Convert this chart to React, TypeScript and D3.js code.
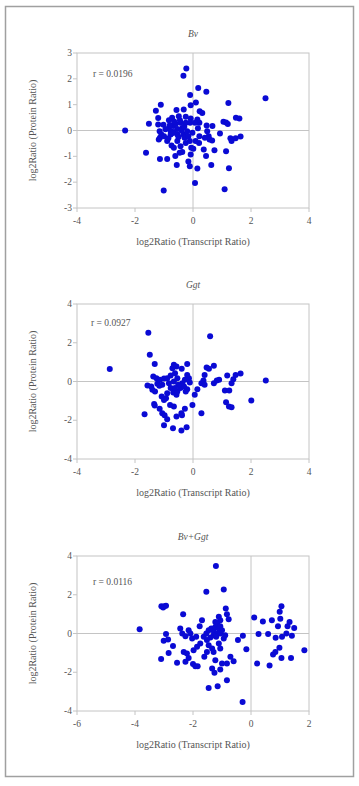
import React from "react";
import * as d3 from "d3";

// Bv panel data: [log2 transcript ratio, log2 protein ratio]
const bvPoints: [number, number][] = [
  [-2.34, 0], [-0.23, 2.4], [-0.33, 2.12], [0.18, 1.65], [0.46, 1.5], [2.5, 1.25],
  [1.22, 1.06], [-0.1, 1.37], [0.1, 1.08], [-1.11, 1.0], [-1.28, 0.76], [-0.57, 0.79],
  [-0.32, 0.81], [-0.08, 0.98], [0.23, 0.75], [0.32, 0.68], [-1.2, 0.48], [-1.52, 0.26],
  [-1.2, 0.23], [-1.02, 0.22], [1.48, 0.49], [1.6, 0.46], [1.05, 0.34], [1.14, 0.31],
  [1.2, 0.25], [0.47, 0.19], [0.67, 0.17], [0.93, -0.12], [1.29, -0.3], [1.33, -0.41],
  [1.47, -0.3], [1.64, -0.23], [0.49, -0.03], [0.54, -0.22], [0.57, -0.35], [0.41, -0.28],
  [0.37, -0.74], [0.45, -0.99], [0.66, -0.39], [0.74, -0.76], [0.63, -1.34], [1.14, -0.8],
  [1.24, -1.46], [1.09, -2.27], [0.07, -2.03], [0.15, -1.47], [-0.16, -1.2], [-0.11, -1.38],
  [-0.56, -1.34], [-0.89, -1.1], [-1.14, -1.1], [-1.62, -0.86], [-0.61, -0.99], [-1.01, -2.32],
  [-0.08, -0.93], [-0.37, -0.83], [-0.06, -0.67], [0.01, -0.71], [0.21, -0.48], [0.22, -0.22],
  [0.17, 0.09], [0.22, 0.3], [0.15, 0.43], [-0.08, 0.46], [-0.25, 0.53], [-0.49, 0.55],
  [-0.72, 0.49], [-0.83, 0.4], [-0.43, 0.3], [-0.25, 0.3], [-0.1, 0.3], [-0.83, 0.1],
  [-0.68, 0.17], [-0.54, 0.06], [-0.37, 0.1], [-0.66, -0.06], [-0.77, -0.15], [-0.54, -0.15],
  [-0.33, -0.15], [-0.2, -0.03], [-0.02, -0.09], [-1.15, -0.03], [-1.09, -0.15], [-1.14, -0.28],
  [-1.18, -0.35], [-1.0, -0.22], [-0.89, -0.41], [-0.74, -0.58], [-0.54, -0.41], [-0.43, -0.61],
  [-0.25, -0.48], [-0.11, -0.41], [0.09, -0.41], [-0.66, -0.67], [-0.46, -0.86], [-0.77, -0.03],
  [-0.29, -0.28], [-0.16, -0.22], [0.07, 0.3],
  [-0.8, 0.2], [-0.7, -0.1], [-0.6, 0.25], [-0.5, -0.25], [-0.4, 0.0], [-0.85, -0.3],
  [-0.65, 0.35], [-0.45, 0.4], [-0.3, 0.15], [-0.95, 0.05],
];

// Ggt panel data
const ggtPoints: [number, number][] = [
  [-2.87, 0.64], [-1.54, 2.52], [0.59, 2.34], [-1.49, 1.38], [-1.32, 0.9], [-1.37, 0.26],
  [-1.26, 0.17], [-1.57, -0.21], [-1.44, -0.26], [-1.4, -0.43], [-1.31, -0.52], [-1.23, -0.12],
  [-1.14, 0.09], [-1.0, 0.16], [-1.06, -0.17], [-1.16, -0.22], [-1.34, -1.16], [-1.32, -1.24],
  [-1.67, -1.69], [-1.15, -1.41], [-1.06, -1.64], [-0.98, -1.74], [-0.89, -1.95], [-1.0, -2.26],
  [-0.69, -2.41], [-0.4, -2.53], [-0.22, -2.36], [-0.38, -1.74], [-0.57, -1.81], [-0.4, -1.64],
  [-0.28, -1.41], [-0.02, -1.21], [-0.66, -1.29], [-0.79, -1.21], [-0.93, -0.86], [-1.08, -0.78],
  [-1.0, -0.95], [-0.89, -0.6], [-0.77, -0.34], [-0.68, -0.57], [-0.57, -0.69], [-0.54, -0.52],
  [-0.43, -0.34], [-0.31, -0.26], [-0.2, -0.4], [-0.37, -0.09], [-0.28, 0.09], [-0.14, 0.17],
  [-0.2, 0.34], [-0.62, 0.43], [-0.77, 0.31], [-0.71, 0.69], [-0.66, 0.86], [-0.57, 0.78],
  [-0.39, 0.66], [-0.2, 0.9], [-0.54, 0.17], [-0.66, 0.0], [-0.83, -0.09], [-0.89, 0.17],
  [-0.51, -0.17], [-0.62, -0.34], [-0.11, -0.05], [-0.25, -0.52], [0.06, -0.69], [0.15, -0.4],
  [0.29, -0.09], [0.36, 0.05], [0.4, 0.34], [0.47, 0.72], [0.55, 0.66], [0.72, 0.81],
  [0.4, -0.17], [0.29, -1.64], [0.72, -0.09], [0.82, 0.05], [0.9, 0.09], [1.18, 0.31],
  [1.1, -0.47], [1.25, -0.47], [1.14, -1.07], [1.24, -1.29], [1.33, -1.33], [1.33, -0.09],
  [1.39, 0.12], [1.47, 0.34], [1.64, 0.41], [2.01, -0.98], [2.51, 0.05],
];

// Bv+Ggt panel data
const bothPoints: [number, number][] = [
  [-3.84, 0.22], [-3.09, 1.41], [-3.03, 1.34], [-2.99, 1.41], [-2.93, 1.43], [-3.1, -1.31],
  [-2.93, -0.03], [-3.01, -0.38], [-2.86, -0.31], [-2.84, -1.0], [-2.69, -0.65], [-2.55, -1.51],
  [-2.37, 0.0], [-2.44, 0.26], [-2.26, -0.14], [-2.34, 1.0], [-2.15, 0.17], [-2.09, 0.0],
  [-2.03, -0.26], [-2.32, -0.95], [-2.21, -1.03], [-2.15, -1.26], [-2.26, -1.46], [-2.0, -1.58],
  [-1.92, -1.69], [-1.84, -1.69], [-1.98, -0.86], [-1.86, -0.69], [-1.75, -0.52], [-1.89, -0.17],
  [-1.69, 0.69], [-1.77, 0.38], [-1.63, -0.17], [-1.54, 0.0], [-1.54, 2.15], [-1.21, 3.48],
  [-0.94, 2.27], [-0.87, 1.29], [-0.83, 1.0], [-0.77, 0.74], [-1.23, 0.6], [-1.11, 0.86],
  [-1.06, 0.69], [-1.46, 0.17], [-1.37, 0.26], [-1.29, 0.14], [-1.23, 0.34], [-1.17, 0.52],
  [-1.11, 0.26], [-1.06, 0.38], [-1.15, 0.0], [-1.06, 0.0], [-1.0, 0.17], [-1.29, -0.09],
  [-1.2, -0.17], [-1.4, -0.21], [-1.52, -0.34], [-1.46, -0.6], [-1.34, -0.77], [-1.52, -0.95],
  [-1.29, -0.95], [-1.11, -0.52], [-1.06, -0.77], [-0.94, -0.26], [-0.89, -0.09], [-1.61, -1.2],
  [-1.23, -1.38], [-1.34, -1.81], [-1.26, -2.03], [-1.06, -1.86], [-1.0, -1.55], [-0.83, -1.55],
  [-0.71, -1.2], [-0.6, -1.43], [-0.83, -2.41], [-1.46, -2.81], [-1.15, -2.72], [-0.45, -0.34],
  [-0.28, -0.12], [-0.16, -0.81], [-0.29, -3.53], [0.11, 0.83], [0.26, -0.03], [0.21, -1.55],
  [0.41, 0.62], [0.59, -0.03], [0.72, 0.69], [0.64, -1.65], [0.76, -1.08], [0.84, -0.95],
  [0.85, -0.22], [0.93, 0.38], [0.99, 1.12], [1.05, 1.41], [1.01, 0.76], [0.98, -0.74],
  [1.05, -1.26], [1.07, -0.17], [1.22, 0.0], [1.26, 0.38], [1.33, 0.6], [1.38, -1.26],
  [1.41, -0.12], [1.49, 0.29], [1.84, -0.86],
];

const panelTitles = ["Bv", "Ggt", "Bv+Ggt"];
const rLabels = ["r = 0.0196", "r = 0.0927", "r = 0.0116"];
const xDomains: [number, number][] = [[-4, 4], [-4, 4], [-6, 2]];
const yDomains: [number, number][] = [[-3, 3], [-4, 4], [-4, 4]];
const xTickValues = [[-4, -2, 0, 2, 4], [-4, -2, 0, 2, 4], [-6, -4, -2, 0, 2]];
const yTickValues = [[-3, -2, -1, 0, 1, 2, 3], [-4, -2, 0, 2, 4], [-4, -2, 0, 2, 4]];
const xAxisTitle = "log2Ratio (Transcript Ratio)";
const yAxisTitle = "log2Ratio (Protein Ratio)";

const FONT = "'Liberation Serif', 'Times New Roman', serif";
const AXIS = "#c4c4c4";
const TEXT = "#555";
const DOT = "#0a0ad4";

const plotLeft = 77;
const plotRight = 309;
const plotTops = [53, 304, 556];
const plotH = 155;
const rPos: [number, number][] = [[93, 73], [91, 322], [93, 581]];

function Panel({ idx, data }: { idx: number; data: [number, number][] }) {
  const top = plotTops[idx];
  const bottom = top + plotH;
  const x = d3.scaleLinear().domain(xDomains[idx]).range([plotLeft, plotRight]);
  const y = d3.scaleLinear().domain(yDomains[idx]).range([bottom, top]);
  const cx = (plotLeft + plotRight) / 2;
  return (
    <g>
      <text x={cx} y={top - 16} textAnchor="middle" fontStyle="italic" fontSize={9.5} fill={TEXT}>
        {panelTitles[idx]}
      </text>
      <rect x={plotLeft} y={top} width={plotRight - plotLeft} height={plotH} fill="white" stroke={AXIS} strokeWidth={1} />
      <line x1={x(0)} x2={x(0)} y1={top} y2={bottom} stroke={AXIS} strokeWidth={1} />
      <line x1={plotLeft} x2={plotRight} y1={y(0)} y2={y(0)} stroke={AXIS} strokeWidth={1} />
      {yTickValues[idx].map((v) => (
        <g key={"y" + v}>
          <line x1={plotLeft - 4} x2={plotLeft} y1={y(v)} y2={y(v)} stroke={AXIS} />
          <text x={plotLeft - 5} y={y(v)} dy="0.33em" textAnchor="end" fontSize={9.5} fill={TEXT}>
            {v}
          </text>
        </g>
      ))}
      {xTickValues[idx].map((v) => (
        <g key={"x" + v}>
          <line x1={x(v)} x2={x(v)} y1={bottom} y2={bottom + 4} stroke={AXIS} />
          <text x={x(v)} y={bottom + 16} textAnchor="middle" fontSize={9.5} fill={TEXT}>
            {v}
          </text>
        </g>
      ))}
      <text x={cx} y={bottom + 37} textAnchor="middle" fontSize={10} fill={TEXT}>
        {xAxisTitle}
      </text>
      <text
        transform={`translate(${36},${(top + bottom) / 2}) rotate(-90)`}
        textAnchor="middle"
        fontSize={10}
        fill={TEXT}
      >
        {yAxisTitle}
      </text>
      <text x={rPos[idx][0]} y={rPos[idx][1] + 3.5} fontSize={9.5} fill={TEXT}>
        {rLabels[idx]}
      </text>
      {data.map((d, i) => (
        <circle key={i} cx={x(d[0])} cy={y(d[1])} r={3} fill={DOT} />
      ))}
    </g>
  );
}

export default function App() {
  const datasets = [bvPoints, ggtPoints, bothPoints];
  return (
    <svg
      width={359}
      height={786}
      style={{ position: "absolute", left: 0, top: 0, background: "white", fontFamily: FONT }}
    >
      <rect x={0} y={0} width={359} height={786} fill="white" />
      <rect x={5.5} y={6.5} width={348} height={770} fill="none" stroke="#a0a0a0" strokeWidth={1.5} />
      {datasets.map((d, i) => (
        <Panel key={i} idx={i} data={d} />
      ))}
    </svg>
  );
}
